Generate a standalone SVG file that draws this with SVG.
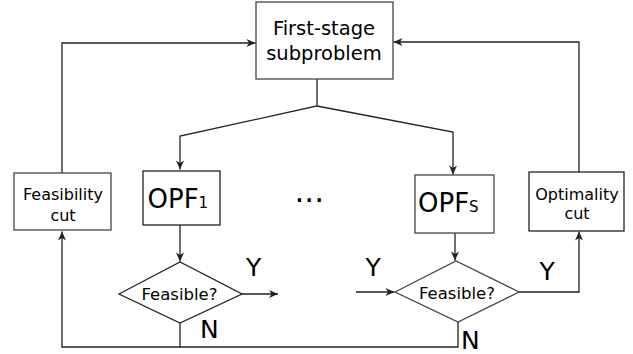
<svg xmlns="http://www.w3.org/2000/svg" width="633" height="354" viewBox="0 0 633 354">
<defs>
<style>
.box{fill:#fff;stroke:#444;stroke-width:1.3}
.dk{stroke:#222}
.ln{fill:none;stroke:#222;stroke-width:1.3}
text{font-family:"DejaVu Sans",sans-serif;fill:#000}
.t19{font-size:19.5px;text-anchor:middle}
.t16{font-size:16px;text-anchor:middle}
.t17{font-size:16.5px;text-anchor:middle}
.big{font-size:25px}
</style>
<marker id="ah" viewBox="-10 -5 11 10" markerWidth="11" markerHeight="10" refX="0" refY="0" orient="auto" markerUnits="userSpaceOnUse">
<path d="M0,0 L-9,-4 L-6.5,0 L-9,4 Z" fill="#222"/>
</marker>
</defs>
<g id="connectors">
<path class="ln" d="M317,79 V106 L180,136 V169.5" marker-end="url(#ah)"/>
<path class="ln" d="M317,106 L453,132 V174.5" marker-end="url(#ah)"/>
<path class="ln" d="M62,173 V43 H255.5" marker-end="url(#ah)"/>
<path class="ln" d="M579,172 V42 H393.5" marker-end="url(#ah)"/>
<path class="ln" d="M180,225 V261.5" marker-end="url(#ah)"/>
<path class="ln" d="M242,294 H278" marker-end="url(#ah)"/>
<path class="ln" d="M180,323 V347"/>
<path class="ln" d="M458,322 V347 H62 V231.5" marker-end="url(#ah)"/>
<path class="ln" d="M455,233 V260.5" marker-end="url(#ah)"/>
<path class="ln" d="M356,292 H394.5" marker-end="url(#ah)"/>
<path class="ln" d="M519,292 H579 V231.5" marker-end="url(#ah)"/>
</g>
<g id="first-stage">
<rect class="box" x="256" y="2" width="137" height="77"/>
<text class="t19" x="324" y="35">First-stage</text>
<text class="t19" x="324" y="60">subproblem</text>
</g>
<g id="feasibility-cut">
<rect class="box" x="14" y="173" width="97" height="57"/>
<text class="t16" x="63" y="200">Feasibility</text>
<text class="t16" x="63" y="220.5">cut</text>
</g>
<g id="opf1">
<rect class="box dk" x="143" y="171" width="77" height="54"/>
<text x="147.5" y="207.5" font-size="26px">OPF<tspan font-size="15px">1</tspan></text>
</g>
<g id="ellipsis">
<text x="294.5" y="202" font-size="31px">...</text>
</g>
<g id="opfs">
<rect class="box" x="415" y="175" width="79" height="58"/>
<text x="418" y="211.5" font-size="26px">OPF<tspan font-size="15px">S</tspan></text>
</g>
<g id="optimality-cut">
<rect class="box dk" x="529" y="172" width="95" height="59"/>
<text class="t16" x="577" y="199.5">Optimality</text>
<text class="t16" x="577" y="219">cut</text>
</g>
<g id="feasible-1">
<polygon class="box dk" points="119,294 180,262 242,294 180,323"/>
<text class="t17" x="179.5" y="299.5">Feasible?</text>
</g>
<g id="feasible-s">
<polygon class="box" points="395,292 456,261 519,292 458,322"/>
<text class="t17" x="457" y="298.5">Feasible?</text>
</g>
<g id="labels">
<text class="big" x="246" y="276">Y</text>
<text class="big" x="365.5" y="276">Y</text>
<text class="big" x="539.5" y="280">Y</text>
<text class="big" x="200" y="338">N</text>
<text class="big" x="461" y="349">N</text>
</g>
</svg>
